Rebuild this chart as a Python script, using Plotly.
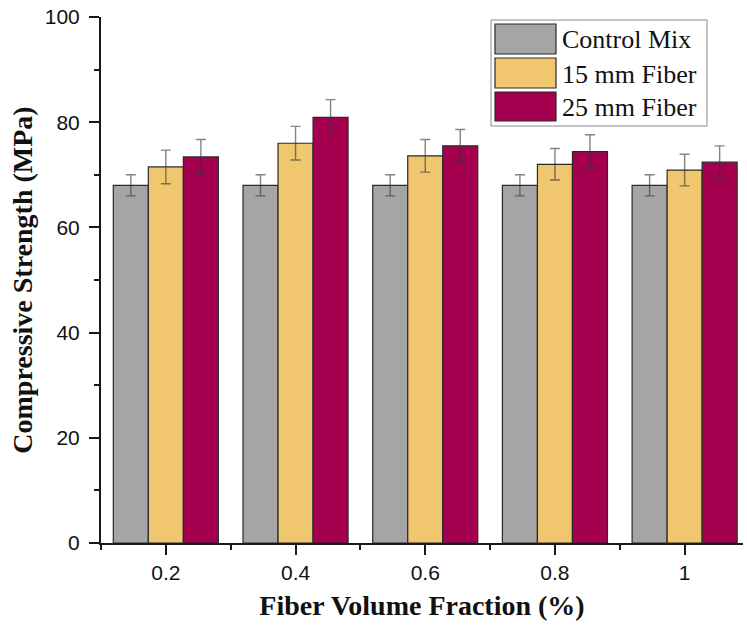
import plotly.graph_objects as go

fractions = [0.2, 0.4, 0.6, 0.8, 1.0]
series_names = ["Control Mix", "15 mm Fiber", "25 mm Fiber"]
control = [68.0, 68.0, 68.0, 68.0, 68.0]
control_err = [2.0, 2.0, 2.0, 2.0, 2.0]
fiber15 = [71.5, 76.0, 73.6, 72.0, 70.9]
fiber15_err = [3.2, 3.2, 3.1, 3.0, 3.0]
fiber25 = [73.4, 80.9, 75.5, 74.4, 72.4]
fiber25_err = [3.3, 3.4, 3.1, 3.2, 3.1]
colors = ["#A5A5A5", "#F0C66E", "#A50050"]

fig = go.Figure()
for name, vals, errs, col in zip(series_names, [control, fiber15, fiber25],
                                 [control_err, fiber15_err, fiber25_err], colors):
    fig.add_trace(go.Bar(
        x=fractions, y=vals, name=name,
        marker=dict(color=col, line=dict(color="#2a2a2a", width=1.2)),
        error_y=dict(type="data", array=errs, visible=True,
                     color="rgba(50,50,50,0.6)", thickness=1.4, width=5),
        showlegend=False,
    ))

# plot area in pixels
L, R, T, B = 101, 743, 17, 543
W, H = R - L, B - T
def px(x):
    return (x - L) / W
def py(y):
    return (B - y) / H

shapes = []
annotations = []
# legend box
shapes.append(dict(type="rect", xref="paper", yref="paper",
                   x0=px(491), x1=px(707), y0=py(126), y1=py(20),
                   line=dict(color="#8a8a8a", width=1), fillcolor="white", layer="above"))
rows = [(24, 54), (58, 88), (92, 121)]
for (y0, y1), name, col in zip(rows, series_names, colors):
    shapes.append(dict(type="rect", xref="paper", yref="paper",
                       x0=px(495), x1=px(556), y0=py(y1), y1=py(y0),
                       line=dict(color="#2a2a2a", width=1.2), fillcolor=col, layer="above"))
    annotations.append(dict(xref="paper", yref="paper", x=px(560), y=py((y0 + y1) / 2 + 1),
                            text=name, showarrow=False, xanchor="left", yanchor="middle",
                            font=dict(family="Liberation Serif", size=26, color="#111")))

fig.update_layout(
    width=747, height=632,
    margin=dict(l=L, r=747 - R, t=T, b=632 - B),
    paper_bgcolor="white", plot_bgcolor="white",
    barmode="group", bargap=0.19, bargroupgap=0,
    shapes=shapes, annotations=annotations,
    xaxis=dict(range=[0.1, 1.09], tick0=0.2, dtick=0.2, showgrid=False, zeroline=False,
               showline=True, linecolor="#1a1a1a", linewidth=2,
               ticks="outside", ticklen=10, tickwidth=2, tickcolor="#1a1a1a",
               minor=dict(tick0=0.1, dtick=0.2, ticks="outside", ticklen=5, tickwidth=1.5, tickcolor="#1a1a1a"),
               tickfont=dict(family="Liberation Sans", size=21, color="#111"),
               title=dict(text="<b>Fiber Volume Fraction (%)</b>", standoff=12,
                          font=dict(family="Liberation Serif", size=28, color="#111"))),
    yaxis=dict(range=[0, 100], dtick=20, showgrid=False, zeroline=False,
               showline=True, linecolor="#1a1a1a", linewidth=2,
               ticks="outside", ticklen=10, tickwidth=2, tickcolor="#1a1a1a",
               ticklabelstandoff=5,
               minor=dict(dtick=10, ticks="outside", ticklen=5, tickwidth=1.5, tickcolor="#1a1a1a"),
               tickfont=dict(family="Liberation Sans", size=21, color="#111"),
               title=dict(text="<b>Compressive Strength (MPa)</b>", standoff=4,
                          font=dict(family="Liberation Serif", size=28, color="#111"))),
)

fig.write_html("out.html")
